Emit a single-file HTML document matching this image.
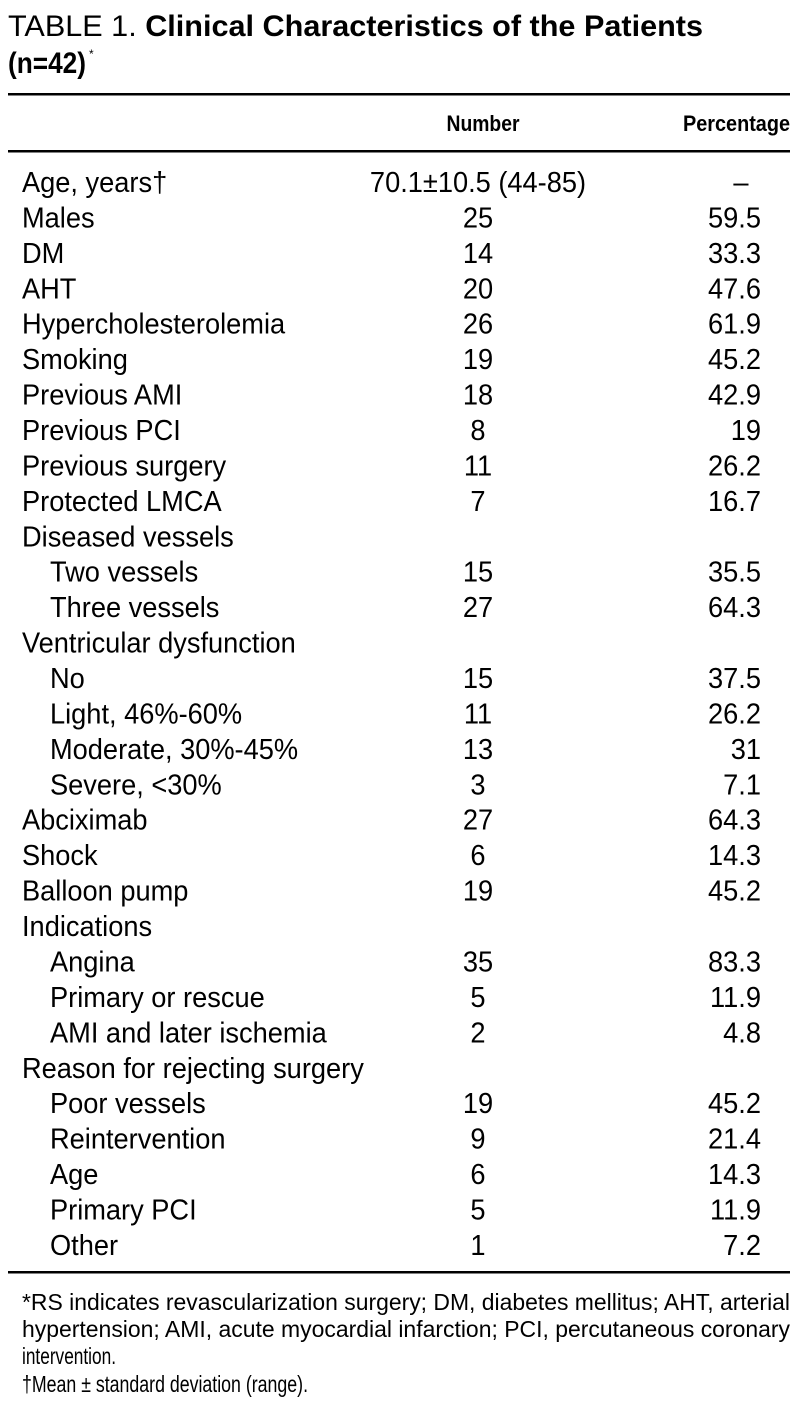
<!DOCTYPE html>
<html><head><meta charset="utf-8"><style>
html,body{margin:0;padding:0;background:#fff;}
svg{display:block;font-family:"Liberation Sans",Arial,sans-serif;}
</style></head><body>
<svg id="s" width="798" height="1411" viewBox="0 0 798 1411">
<text x="8" y="36" font-size="30" textLength="695" lengthAdjust="spacingAndGlyphs">TABLE 1. <tspan font-weight="bold">Clinical Characteristics of the Patients</tspan></text>
<text x="8" y="73" font-size="30" font-weight="bold" textLength="78" lengthAdjust="spacingAndGlyphs">(n=42)</text>
<text x="89" y="58" font-size="12">*</text>
<rect x="8" y="93" width="782" height="2.5" fill="#000"/>
<text x="483" y="131" font-size="22" font-weight="bold" text-anchor="middle" textLength="73" lengthAdjust="spacingAndGlyphs">Number</text>
<text x="790" y="131" font-size="22" font-weight="bold" text-anchor="end" textLength="107" lengthAdjust="spacingAndGlyphs">Percentage</text>
<rect x="8" y="150" width="782" height="2.5" fill="#000"/>
<g id="rows"></g>
<rect x="8" y="1271" width="782" height="2.5" fill="#000"/>
<g font-size="23">
<text x="22" y="1310" textLength="768" lengthAdjust="spacingAndGlyphs">*RS indicates revascularization surgery; DM, diabetes mellitus; AHT, arterial</text>
<text x="22" y="1337" textLength="768" lengthAdjust="spacingAndGlyphs">hypertension; AMI, acute myocardial infarction; PCI, percutaneous coronary</text>
<text x="22" y="1364" textLength="94" lengthAdjust="spacingAndGlyphs">intervention.</text>
<text x="22" y="1392" textLength="286" lengthAdjust="spacingAndGlyphs">†Mean ± standard deviation (range).</text>
</g>
</svg>
<script>
const labels=["Age, years†","Males","DM","AHT","Hypercholesterolemia","Smoking","Previous AMI","Previous PCI","Previous surgery","Protected LMCA","Diseased vessels","Two vessels","Three vessels","Ventricular dysfunction","No","Light, 46%-60%","Moderate, 30%-45%","Severe, <30%","Abciximab","Shock","Balloon pump","Indications","Angina","Primary or rescue","AMI and later ischemia","Reason for rejecting surgery","Poor vessels","Reintervention","Age","Primary PCI","Other"];
const indent=[0,0,0,0,0,0,0,0,0,0,0,1,1,0,1,1,1,1,0,0,0,0,1,1,1,0,1,1,1,1,1];
const numbers=["70.1±10.5 (44-85)","25","14","20","26","19","18","8","11","7","","15","27","","15","11","13","3","27","6","19","","35","5","2","","19","9","6","5","1"];
const percents=["–","59.5","33.3","47.6","61.9","45.2","42.9","19","26.2","16.7","","35.5","64.3","","37.5","26.2","31","7.1","64.3","14.3","45.2","","83.3","11.9","4.8","","45.2","21.4","14.3","11.9","7.2"];
const NS="http://www.w3.org/2000/svg";
const g=document.getElementById('rows');
function mk(x,y,str,anchor){
  const t=document.createElementNS(NS,'text');
  t.setAttribute('transform','translate('+x+','+y+') scale(0.99,1.04)');
  t.setAttribute('font-size','27.5');
  t.setAttribute('text-anchor',anchor);
  t.textContent=str;
  g.appendChild(t);
  return t;
}
labels.forEach((l,i)=>{
  const y=192+35.43*i;
  const a=mk(indent[i]?50:22,y,l,'start');
  
  
  if(numbers[i]!==''){
    const b=mk(478,y,numbers[i],'middle');
    
    
  }
  if(percents[i]!==''){
    const c=percents[i]==='–'?mk(741,y,percents[i],'middle'):mk(761,y,percents[i],'end');
    
    
  }
});
</script>
</body></html>
